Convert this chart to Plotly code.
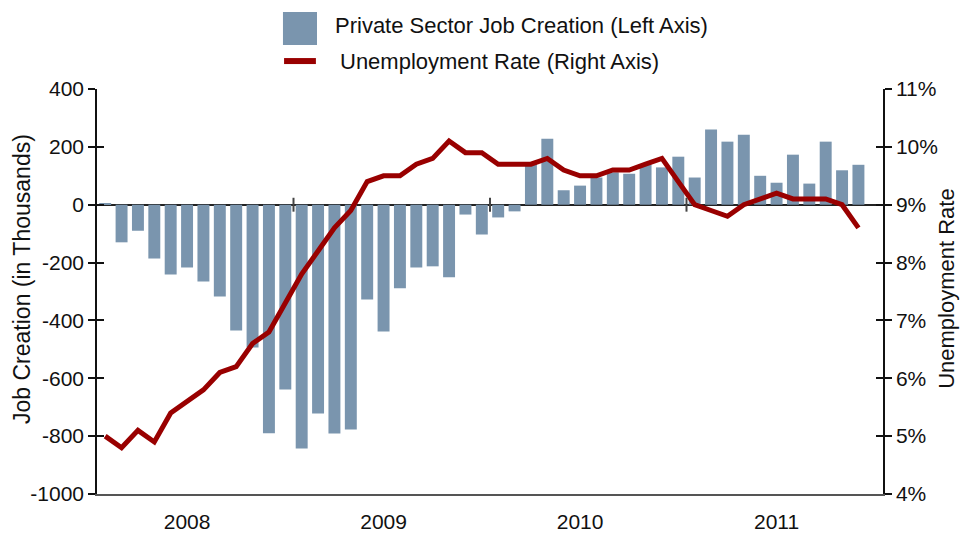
import plotly.graph_objects as go

# Monthly series, Jan 2008 .. Nov 2011
years = ["2008", "2009", "2010", "2011"]
month_names = ["Jan", "Feb", "Mar", "Apr", "May", "Jun",
               "Jul", "Aug", "Sep", "Oct", "Nov", "Dec"]
months = [f"{m} {y}" for y in years for m in month_names][:47]

# Private sector job creation, thousands
job_creation = [
    4, -130, -90, -186, -241, -217, -265, -317, -435, -494, -790, -639,
    -843, -722, -791, -777, -328, -438, -289, -217, -213, -251, -34, -103,
    -44, -23, 140, 228, 50, 66, 94, 112, 107, 140, 129, 166,
    94, 260, 218, 242, 100, 76, 173, 73, 218, 119, 138,
]

# Unemployment rate, percent
unemployment = [
    5.0, 4.8, 5.1, 4.9, 5.4, 5.6, 5.8, 6.1, 6.2, 6.6, 6.8, 7.3,
    7.8, 8.2, 8.6, 8.9, 9.4, 9.5, 9.5, 9.7, 9.8, 10.1, 9.9, 9.9,
    9.7, 9.7, 9.7, 9.8, 9.6, 9.5, 9.5, 9.6, 9.6, 9.7, 9.8, 9.4,
    9.0, 8.9, 8.8, 9.0, 9.1, 9.2, 9.1, 9.1, 9.1, 9.0, 8.6,
]

left_ticks = [400, 200, 0, -200, -400, -600, -800, -1000]
right_ticks = [4, 5, 6, 7, 8, 9, 10, 11]

BAR = "#7a95ae"
LINE = "#990000"
FONT = "Liberation Sans, Arial, sans-serif"

x = list(range(len(months)))
n_slots = len(years) * 12

fig = go.Figure()
fig.add_trace(go.Bar(
    x=x, y=job_creation, marker=dict(color=BAR, line=dict(width=0)),
    name="Private Sector Job Creation (Left Axis)", showlegend=False,
    hovertext=months, yaxis="y",
))
fig.add_trace(go.Scatter(
    x=x, y=unemployment, mode="lines", line=dict(color=LINE, width=5),
    name="Unemployment Rate (Right Axis)", showlegend=False,
    hovertext=months, yaxis="y2",
))
# invisible companions so the inner-tick axes are drawn
fig.add_trace(go.Scatter(x=x, y=job_creation, mode="none", yaxis="y3",
                         showlegend=False, hoverinfo="skip"))
fig.add_trace(go.Scatter(x=x, y=unemployment, mode="none", yaxis="y4",
                         showlegend=False, hoverinfo="skip"))

tickfont = dict(family=FONT, size=21, color="#111")

# year boundary marks on the zero line
shapes = []
for k in range(1, len(years)):
    xb = k * 12 - 0.5
    shapes.append(dict(type="line", xref="x", yref="y", x0=xb, x1=xb,
                       y0=-24, y1=24, line=dict(color="#444", width=2)))

# legend drawn by hand
shapes.append(dict(type="rect", xref="paper", yref="paper",
                   x0=0.2366, x1=0.2799, y0=1.1086, y1=1.190,
                   fillcolor=BAR, line=dict(width=0)))
shapes.append(dict(type="line", xref="paper", yref="paper",
                   x0=0.2380, x1=0.2785, y0=1.069, y1=1.069,
                   line=dict(color=LINE, width=6)))

annotations = [
    dict(text="Private Sector Job Creation (Left Axis)", xref="paper", yref="paper",
         x=0.3003, y=1.158, xanchor="left", yanchor="middle", showarrow=False,
         font=dict(family=FONT, size=22, color="#111")),
    dict(text="Unemployment Rate (Right Axis)", xref="paper", yref="paper",
         x=0.3066, y=1.069, xanchor="left", yanchor="middle", showarrow=False,
         font=dict(family=FONT, size=22, color="#111")),
    dict(text="Job Creation (in Thousands)", xref="paper", yref="paper",
         x=-0.0954, y=0.531, xanchor="center", yanchor="middle", textangle=-90,
         showarrow=False, font=dict(family=FONT, size=23, color="#111")),
    dict(text="Unemployment Rate", xref="paper", yref="paper",
         x=1.0814, y=0.509, xanchor="center", yanchor="middle", textangle=-90,
         showarrow=False, font=dict(family=FONT, size=22, color="#111")),
]

fig.update_layout(
    width=967, height=536,
    margin=dict(l=97, r=84, t=89, b=42),
    paper_bgcolor="white", plot_bgcolor="white",
    bargap=0.27,
    font=dict(family=FONT, size=21, color="#111"),
    xaxis=dict(
        range=[-0.5, n_slots - 0.5], showgrid=False, zeroline=False,
        tickvals=[5 + 12 * i for i in range(len(years))], ticktext=years,
        ticks="outside", ticklen=8, tickcolor="rgba(0,0,0,0)",
        tickfont=tickfont, showline=True, linecolor="#555", linewidth=1.5,
        automargin=False,
    ),
    yaxis=dict(
        range=[-1000, 400], tickvals=left_ticks,
        ticktext=[str(v) for v in left_ticks], tickfont=tickfont,
        showgrid=False, zeroline=True, zerolinecolor="#222", zerolinewidth=1.5,
        showline=True, linecolor="#111", linewidth=1.5,
        ticks="outside", ticklen=7, tickwidth=1.5, tickcolor="#111",
        automargin=False,
    ),
    yaxis2=dict(
        range=[4, 11], overlaying="y", side="right", anchor="x",
        tickvals=right_ticks, ticktext=[f"{v}%" for v in right_ticks],
        tickfont=tickfont, showgrid=False, zeroline=False,
        showline=True, linecolor="#111", linewidth=1.5,
        ticks="outside", ticklen=7, tickwidth=1.5, tickcolor="#111",
        automargin=False,
    ),
    yaxis3=dict(
        range=[-1000, 400], overlaying="y", side="left", anchor="x",
        tickvals=left_ticks, showticklabels=False, showgrid=False,
        zeroline=False, showline=False,
        ticks="inside", ticklen=7, tickwidth=1.5, tickcolor="#111",
        automargin=False,
    ),
    yaxis4=dict(
        range=[4, 11], overlaying="y", side="right", anchor="x",
        tickvals=right_ticks, showticklabels=False, showgrid=False,
        zeroline=False, showline=False,
        ticks="inside", ticklen=7, tickwidth=1.5, tickcolor="#111",
        automargin=False,
    ),
    shapes=shapes,
    annotations=annotations,
    showlegend=False,
)

fig.write_html("out.html")
